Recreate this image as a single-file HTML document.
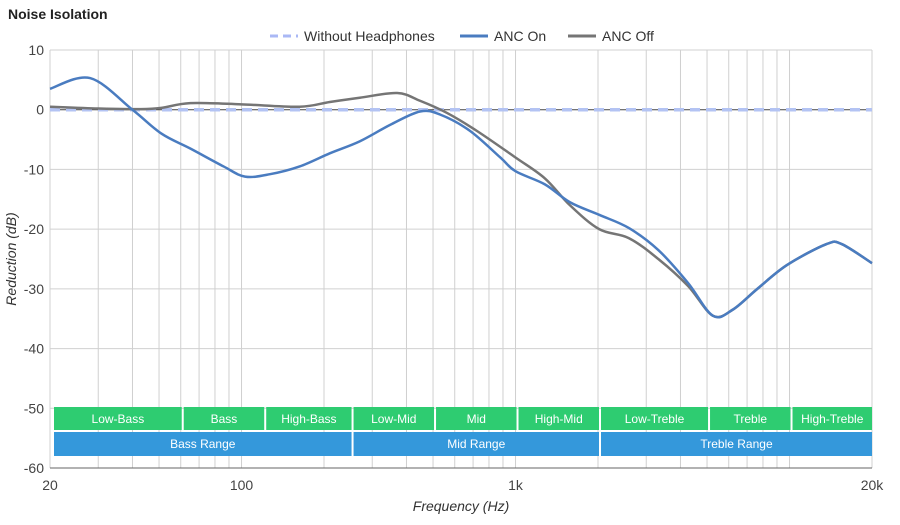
<!DOCTYPE html>
<html><head><meta charset="utf-8">
<style>
body{margin:0;background:#fff;font-family:"Liberation Sans",Arial,sans-serif;}
svg text{font-family:"Liberation Sans",Arial,sans-serif;}
</style></head>
<body>
<svg id="chart" width="900" height="520" xmlns="http://www.w3.org/2000/svg">
<text x="8" y="19" font-size="14" font-weight="bold" fill="#222">Noise Isolation</text>
<g id="legend">
 <g>
  <line x1="270" y1="36" x2="298" y2="36" stroke="#aab8f5" stroke-width="3" stroke-dasharray="8,5"/>
  <text x="304" y="41" font-size="14" fill="#333">Without Headphones</text></g>
 <g>
  <line x1="460" y1="36" x2="488" y2="36" stroke="#4a7cc0" stroke-width="3"/>
  <text x="494" y="41" font-size="14" fill="#333">ANC On</text></g>
 <g>
  <line x1="568" y1="36" x2="596" y2="36" stroke="#757575" stroke-width="3"/>
  <text x="602" y="41" font-size="14" fill="#333">ANC Off</text></g>
</g>
<g id="grid"></g>
<g id="bands"></g>
<g id="series"></g>
<g id="axes"></g>
<text transform="translate(16,259) rotate(-90)" text-anchor="middle" font-size="14" font-style="italic" fill="#333">Reduction (dB)</text>
<text x="461" y="511" text-anchor="middle" font-size="14" font-style="italic" fill="#333">Frequency (Hz)</text>
</svg>
<script>
const yTicks=[10,0,-10,-20,-30,-40,-50,-60];
const xTickLabels=[[20,"20"],[100,"100"],[1000,"1k"],[20000,"20k"]];
const gridFreqs=[20,30,40,50,60,70,80,90,100,200,300,400,500,600,700,800,900,1000,2000,3000,4000,5000,6000,7000,8000,9000,10000,20000];
const bandNames=["Low-Bass","Bass","High-Bass","Low-Mid","Mid","High-Mid","Low-Treble","Treble","High-Treble"];
const bandEdges=[20,60,120,250,500,1000,2000,5000,10000,20000];
const rangeNames=["Bass Range","Mid Range","Treble Range"];
const rangeEdges=[20,250,2000,20000];
const freqOn=[20,28,40,51,65,86,103,127,163,210,270,350,448,530,680,880,1000,1280,1580,2020,2590,3320,4260,5250,6200,7630,9800,13650,15500,20000];
const ancOn=[3.5,5.3,0,-4,-6.5,-9.5,-11.2,-10.8,-9.5,-7.3,-5.3,-2.5,-0.3,-0.8,-3.5,-8,-10.3,-12.5,-15.5,-17.6,-19.8,-23.5,-29,-34.5,-33.5,-30,-26,-22.5,-22.5,-25.7];
const freqOff=[20,30,43,51,65,100,163,210,270,370,448,560,720,1000,1280,1580,2020,2590,3320,4260,5250,6200,7630,9800,13650,15500,20000];
const ancOff=[0.5,0.2,0.1,0.3,1.1,0.9,0.5,1.3,2,2.8,1.5,-0.5,-3.5,-8,-11.5,-16,-20,-21.5,-25,-29.5,-34.5,-33.5,-30,-26,-22.5,-22.5,-25.7];
const baseline=[0,0];
const L=50,R=872,T=50,B=468;
const X=f=>L+(R-L)*Math.log10(f/20)/3;
const Y=v=>T+(10-v)*(B-T)/70;
const NS="http://www.w3.org/2000/svg";
function mk(t,a,p){const e=document.createElementNS(NS,t);for(const k in a)e.setAttribute(k,a[k]);p.appendChild(e);return e;}
const grid=document.getElementById('grid');
gridFreqs.forEach(f=>{const l=mk('line',{x1:X(f),x2:X(f),y1:T,y2:B,stroke:'#d0d0d0','stroke-width':1},grid);

});
yTicks.forEach(v=>{const l=mk('line',{x1:L,x2:R,y1:Y(v),y2:Y(v),stroke:v===0?'#444':'#d0d0d0','stroke-width':1},grid);


const t=mk('text',{x:L-6,y:Y(v)+5,'text-anchor':'end','font-size':14,fill:'#444'},grid);t.textContent=v;

});
xTickLabels.forEach(([f,s])=>{const t=mk('text',{x:X(f),y:490,'text-anchor':'middle','font-size':14,fill:'#444'},grid);t.textContent=s;

});
const bands=document.getElementById('bands');
bandNames.forEach((n,i)=>{const x1=X(bandEdges[i])+(i?3:4),x2=Math.min(R,X(bandEdges[i+1])+1);
const r=mk('rect',{x:x1,y:407,width:x2-x1,height:23,fill:'#2ecc71'},bands);


const t=mk('text',{x:(x1+x2)/2,y:423,'text-anchor':'middle','font-size':12,fill:'#fff'},bands);t.textContent=n;

});
rangeNames.forEach((n,i)=>{const x1=X(rangeEdges[i])+(i?3:4),x2=Math.min(R,X(rangeEdges[i+1])+1);
const r=mk('rect',{x:x1,y:432,width:x2-x1,height:24,fill:'#3498db'},bands);


const t=mk('text',{x:(x1+x2)/2,y:448,'text-anchor':'middle','font-size':12,fill:'#fff'},bands);t.textContent=n;

});
function smooth(fs,vs){const p=fs.map((f,i)=>[X(f),Y(vs[i])]);let d='M'+p[0][0]+','+p[0][1];
for(let i=0;i<p.length-1;i++){const p0=p[i-1]||p[i],p1=p[i],p2=p[i+1],p3=p[i+2]||p2;
d+=' C'+(p1[0]+(p2[0]-p0[0])/6)+','+(p1[1]+(p2[1]-p0[1])/6)+' '+(p2[0]-(p3[0]-p1[0])/6)+','+(p2[1]-(p3[1]-p1[1])/6)+' '+p2[0]+','+p2[1];}return d;}
const s=document.getElementById('series');
const b=mk('line',{x1:X(20),x2:X(20000),y1:Y(baseline[0]),y2:Y(baseline[1]),stroke:'#b3c3f3','stroke-width':3.5,'stroke-dasharray':'10,6'},s);


const off=mk('path',{d:smooth(freqOff,ancOff),fill:'none',stroke:'#757575','stroke-width':2.5},s);


const on=mk('path',{d:smooth(freqOn,ancOn),fill:'none',stroke:'#4a7cc0','stroke-width':2.5},s);


const ax=document.getElementById('axes');
const a=mk('line',{x1:L,x2:R,y1:B,y2:B,stroke:'#666','stroke-width':1},ax);


</script>
</body></html>
